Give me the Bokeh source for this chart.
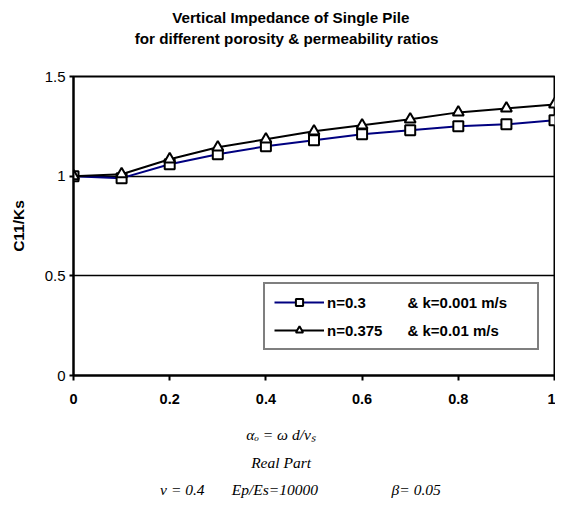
from bokeh.plotting import figure
from bokeh.models import Title, Range1d, FixedTicker, Legend, LegendItem
from bokeh.embed import file_html
from bokeh.resources import INLINE

# ---- data ----
freq = [0.0, 0.1, 0.2, 0.3, 0.4, 0.5, 0.6, 0.7, 0.8, 0.9, 1.0]
c11_n03 = [1.00, 0.99, 1.06, 1.11, 1.15, 1.18, 1.21, 1.23, 1.25, 1.26, 1.28]
c11_n0375 = [1.00, 1.01, 1.085, 1.145, 1.185, 1.225, 1.255, 1.285, 1.32, 1.34, 1.36]
NB = "\u00a0"
label_n03 = "n=0.3" + NB * 10 + "& k=0.001 m/s"
label_n0375 = "n=0.375" + NB * 6 + "& k=0.01 m/s"
x_ticks = [0, 0.2, 0.4, 0.6, 0.8, 1]
x_tick_labels = ["0", "0.2", "0.4", "0.6", "0.8", "1"]
y_ticks = [0, 0.5, 1, 1.5]
y_tick_labels = ["0", "0.5", "1", "1.5"]
title_1 = "Vertical Impedance of Single Pile"
title_2 = "for different porosity & permeability ratios"
x_label = "\u03b1\u2092 = \u03c9 d/v\u209b"
sub_1 = "Real Part"
sub_2 = "\u03bd = 0.4" + NB * 7 + "Ep/Es=10000" + NB * 19 + "\u03b2= 0.05"

SANS = "Liberation Sans"
SERIF = "Liberation Serif"

p = figure(frame_width=481, frame_height=299,
           min_border_left=73, min_border_right=1,
           min_border_top=76, min_border_bottom=130,
           x_range=Range1d(0, 1), y_range=Range1d(0, 1.5),
           output_backend="svg", toolbar_location=None, title=None)

p.background_fill_color = "white"
p.border_fill_color = "white"
p.outline_line_color = "black"
p.outline_line_width = 2

# titles above (first added = closest to frame); trailing nbsp shift the centred text left
p.add_layout(Title(text=NB, align="center", text_font=SANS, text_font_size="15.2px",
                   standoff=10), "above")
p.add_layout(Title(text=title_2 + NB * 13, align="center", text_color="black",
                   text_font=SANS, text_font_size="15.2px", text_font_style="bold",
                   standoff=1), "above")
p.add_layout(Title(text=title_1 + NB * 11, align="center", text_color="black",
                   text_font=SANS, text_font_size="15.2px", text_font_style="bold",
                   standoff=4), "above")

# axes
p.xaxis.ticker = FixedTicker(ticks=x_ticks)
p.xaxis.major_label_overrides = dict(zip(x_ticks, x_tick_labels))
p.yaxis.ticker = FixedTicker(ticks=y_ticks)
p.yaxis.major_label_overrides = dict(zip(y_ticks, y_tick_labels))
for ax in (p.xaxis, p.yaxis):
    ax.axis_line_color = "black"
    ax.axis_line_width = 2
    ax.major_tick_line_color = "black"
    ax.major_tick_line_width = 2
    ax.major_tick_in = 0
    ax.minor_tick_line_color = None
    ax.major_label_text_font = SANS
    ax.major_label_text_color = "black"
p.xaxis.major_label_text_font_size = "14.5px"
p.yaxis.major_label_text_font_size = "15px"
p.xaxis.major_tick_out = 5
p.yaxis.major_tick_out = 4
p.xaxis.major_label_text_font_style = "bold"
p.xaxis.major_label_standoff = 13
p.yaxis.major_label_standoff = 4

p.yaxis.axis_label = "C11/Ks"
p.yaxis.axis_label_text_font = SANS
p.yaxis.axis_label_text_font_size = "15.5px"
p.yaxis.axis_label_text_font_style = "bold"
p.yaxis.axis_label_text_color = "black"
p.yaxis.axis_label_standoff = 15

p.xaxis.axis_label = x_label + NB * 17
p.xaxis.axis_label_text_font = SERIF
p.xaxis.axis_label_text_font_size = "15.5px"
p.xaxis.axis_label_text_font_style = "italic"
p.xaxis.axis_label_text_color = "black"
p.xaxis.axis_label_standoff = 19

p.add_layout(Title(text=sub_1 + NB * 17, align="center", text_font=SERIF,
                   text_color="black", text_font_size="15.5px",
                   text_font_style="italic", standoff=13), "below")
p.add_layout(Title(text=sub_2 + NB * 7, align="center", text_font=SERIF,
                   text_color="black", text_font_size="15.5px",
                   text_font_style="italic", standoff=2), "below")

# grid
p.xgrid.visible = False
p.ygrid.grid_line_color = "black"
p.ygrid.grid_line_width = 1.5
p.ygrid.grid_line_alpha = 1

# series
l1 = p.line(freq, c11_n03, line_color="#000080", line_width=2)
s1 = p.scatter(freq, c11_n03, marker="square", size=10, fill_color="white",
               line_color="black", line_width=2)
l2 = p.line(freq, c11_n0375, line_color="black", line_width=2)
s2 = p.scatter(freq, c11_n0375, marker="triangle", size=11, fill_color="white",
               line_color="black", line_width=2)

legend = Legend(items=[LegendItem(label=label_n03, renderers=[l1, s1]),
                       LegendItem(label=label_n0375, renderers=[l2, s2])],
                location=(190, 25))
legend.border_line_color = "black"
legend.border_line_width = 2
legend.background_fill_color = "white"
legend.background_fill_alpha = 1
legend.label_text_font = SANS
legend.label_text_font_size = "15px"
legend.label_text_font_style = "bold"
legend.label_text_color = "black"
legend.glyph_width = 50
legend.glyph_height = 18
legend.label_height = 18
legend.label_width = 201
legend.spacing = 10
legend.padding = 9
legend.margin = 0
legend.label_standoff = 3
p.add_layout(legend)

open("out.html", "w").write(file_html(p, INLINE))
